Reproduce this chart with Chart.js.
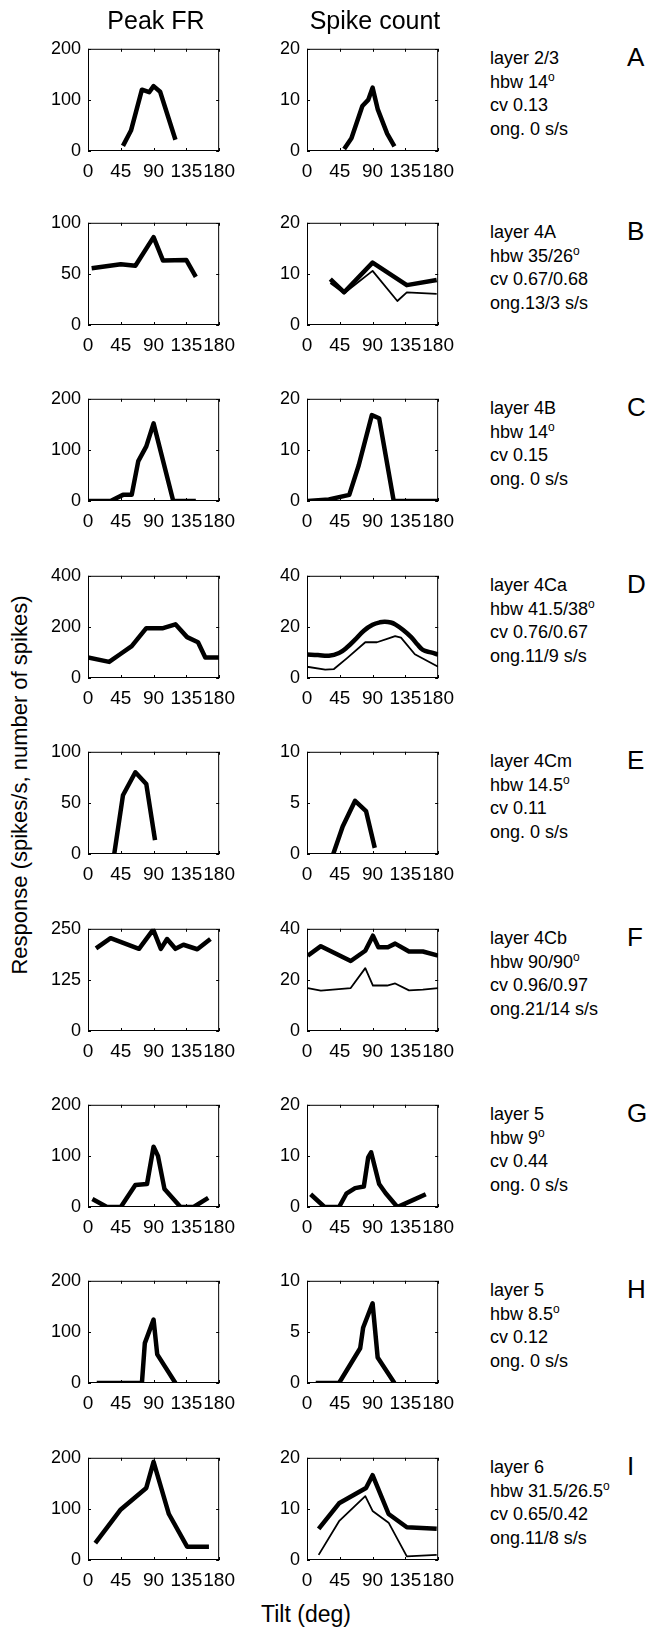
<!DOCTYPE html>
<html lang="en">
<head>
    <meta charset="UTF-8">
    <title>Tilt tuning</title>
    <style>
        body {
            margin: 0;
            background: #fff;
            font-family: "Liberation Sans", Arial, Helvetica, sans-serif;
            color: #000;
        }
        #fig {
            position: relative;
            width: 649px;
            height: 1627px;
            overflow: hidden;
        }
        .txt {
            position: absolute;
            white-space: nowrap;
        }
        .note {
            font-size: 18px;
            line-height: 23.5px;
        }
        .note sup {
            font-size: 12px;
            vertical-align: 7px;
            line-height: 0;
        }
        .letter {
            font-size: 26px;
            line-height: 26px;
        }
        .title {
            font-size: 25px;
            line-height: 26px;
            text-align: center;
        }
    </style>
</head>
<body>
<div id="fig"></div>

<script src="https://cdn.jsdelivr.net/npm/chart.js"></script>
<script>
    // ---- data (tilt in deg, response) ----
    // A, layer 2/3
    const aFrX = [48, 59, 74, 84, 90, 99, 120];
    const aFrY = [10, 40, 120, 115, 127, 116, 22];
    const aScX = [51, 61, 76, 84, 90, 97, 110, 120];
    const aScY = [0.4, 2.5, 8.8, 10, 12.4, 8.2, 3.4, 0.9];
    // B, layer 4A
    const bFrX = [5, 45, 65, 90, 103, 135, 148];
    const bFrY = [55.5, 59.5, 58, 86, 63, 63.5, 47];
    const bScX = [32, 51, 90, 137, 178];
    const bScY = [9, 6.4, 12.2, 7.8, 8.8];
    const bSc2X = [32, 51, 90, 124, 137, 178];
    const bSc2Y = [8.2, 6.2, 10.6, 4.7, 6.4, 6.1];
    // C, layer 4B
    const cFrX = [0, 31, 48, 60, 69, 80, 90, 117, 148];
    const cFrY = [0, 0, 12, 12, 78, 107, 152, 0, 0];
    const cScX = [1, 30, 58, 71, 89, 99, 119, 180];
    const cScY = [0, 0.3, 1.2, 7, 16.8, 16.2, 0, 0];
    // D, layer 4Ca
    const dFrX = [0, 29, 45, 60, 80, 103, 120, 136, 151, 161, 180];
    const dFrY = [80, 63, 95, 125, 195, 195, 210, 160, 140, 80, 80];
    const dScX = [0, 15, 30, 44, 55, 66, 78, 90, 100, 107, 115, 121, 132, 143, 152, 159, 170, 180];
    const dScY = [9.2, 9, 8.7, 9.8, 12, 15, 18.5, 20.8, 21.8, 22, 21.7, 21, 18.8, 16, 13, 11, 10, 9.2];
    const dSc2X = [0, 25, 37, 55, 80, 96, 112, 121, 129, 148, 180];
    const dSc2Y = [4.4, 3.3, 3.5, 7.8, 14, 14, 15.5, 16.4, 15.8, 9.3, 4.4];
    // E, layer 4Cm
    const eFrX = [36, 48, 65, 80, 92];
    const eFrY = [0, 57.5, 80, 68.5, 13.5];
    const eScX = [36, 49, 66, 81, 93];
    const eScY = [0, 2.7, 5.2, 4.2, 0.6];
    // F, layer 4Cb
    const fFrX = [11, 31, 70, 89.5, 100, 108.5, 120, 131, 150, 168];
    const fFrY = [202, 227, 201, 248, 201, 225, 201, 211, 200, 225];
    const fScX = [1, 19, 60, 80, 90.5, 98, 111, 121, 140, 159, 180];
    const fScY = [29.5, 33.2, 27.4, 31.4, 37.3, 32.8, 32.8, 34.2, 31.1, 31.1, 29.5];
    const fSc2X = [1, 19, 60, 80, 90.5, 110, 121, 140, 159, 180];
    const fSc2Y = [16.8, 15.8, 16.8, 24.6, 17.8, 17.8, 18.6, 15.9, 16.2, 16.8];
    // G, layer 5
    const gFrX = [6, 26, 45, 65, 81, 90, 96, 105, 127, 145, 165];
    const gFrY = [15.5, 0, 0, 43, 45, 118, 100, 35, 0, 0, 18];
    const gScX = [5, 24, 44, 54, 66, 78, 84, 88, 99, 108, 124, 146, 163];
    const gScY = [2.5, 0, 0, 2.6, 3.7, 4, 9.7, 10.7, 4.5, 2.7, 0, 1.4, 2.5];
    // H, layer 5
    const hFrX = [12, 74, 78, 90, 95, 120];
    const hFrY = [0, 0, 78, 124, 56, 0];
    const hScX = [12, 44, 73, 77, 90, 97, 120];
    const hScY = [0, 0, 3.4, 5.4, 7.8, 2.5, 0];
    // I, layer 6
    const iFrX = [10, 45, 80, 90, 111, 136, 166];
    const iFrY = [33, 99, 141, 192, 90, 26, 26];
    const iScX = [16, 44, 81, 90, 112, 137, 178];
    const iScY = [6.1, 11.1, 14.1, 16.6, 9, 6.4, 6.1];
    const iSc2X = [16, 44, 80, 90, 112, 137, 178];
    const iSc2Y = [1, 7.6, 12.5, 9.6, 7.3, 0.7, 1];

    const letters = ['A', 'B', 'C', 'D', 'E', 'F', 'G', 'H', 'I'];
    const yMaxFr = [200, 100, 200, 400, 100, 250, 200, 200, 200];
    const yMaxSc = [20, 20, 20, 40, 10, 40, 20, 10, 20];
    const tiltTicks = [0, 45, 90, 135, 180];

    const layerTxt = ['layer 2/3', 'layer 4A', 'layer 4B', 'layer 4Ca', 'layer 4Cm', 'layer 4Cb', 'layer 5', 'layer 5', 'layer 6'];
    const hbwTxt = ['14', '35/26', '14', '41.5/38', '14.5', '90/90', '9', '8.5', '31.5/26.5'];
    const cvTxt = ['0.13', '0.67/0.68', '0.15', '0.76/0.67', '0.11', '0.96/0.97', '0.44', '0.12', '0.65/0.42'];
    const ongTxt = [' 0', '13/3', ' 0', '11/9', ' 0', '21/14', ' 0', ' 0', '11/8'];

    const THICK = 4.5, THIN = 1.8;
    const frSeries = [
        [[aFrX, aFrY, THICK]], [[bFrX, bFrY, THICK]], [[cFrX, cFrY, THICK]],
        [[dFrX, dFrY, THICK]], [[eFrX, eFrY, THICK]], [[fFrX, fFrY, THICK]],
        [[gFrX, gFrY, THICK]], [[hFrX, hFrY, THICK]], [[iFrX, iFrY, THICK]]
    ];
    const scSeries = [
        [[aScX, aScY, THICK]],
        [[bScX, bScY, THICK], [bSc2X, bSc2Y, THIN]],
        [[cScX, cScY, THICK]],
        [[dScX, dScY, THICK, 0.4], [dSc2X, dSc2Y, THIN]],
        [[eScX, eScY, THICK]],
        [[fScX, fScY, THICK], [fSc2X, fSc2Y, THIN]],
        [[gScX, gScY, THICK]],
        [[hScX, hScY, THICK]],
        [[iScX, iScY, THICK], [iSc2X, iSc2Y, THIN]]
    ];

    // ---- layout ----
    const COL_LEFT = [88, 307];
    const BOX_W = 136, BOX_H = 108;
    const rowTop = i => i === 0 ? 49 : Math.round(46.5 + 176.4 * i);

    Chart.defaults.font.family = '"Liberation Sans", Arial, Helvetica, sans-serif';
    Chart.defaults.color = '#000';

    // matlab style box with ticks pointing inwards
    const boxPlugin = {
        id: 'box',
        afterDraw(chart) {
            const { ctx, chartArea: a, scales } = chart;
            const len = 3;
            ctx.save();
            ctx.strokeStyle = '#000';
            ctx.lineWidth = 1;
            ctx.strokeRect(a.left + 0.5, a.top + 0.5, a.width - 1, a.height - 1);
            ctx.beginPath();
            scales.x.ticks.forEach(t => {
                const px = Math.round(scales.x.getPixelForValue(t.value)) + 0.5;
                ctx.moveTo(px, a.bottom); ctx.lineTo(px, a.bottom - len);
                ctx.moveTo(px, a.top); ctx.lineTo(px, a.top + len);
            });
            scales.y.ticks.forEach(t => {
                const py = Math.round(scales.y.getPixelForValue(t.value)) + 0.5;
                ctx.moveTo(a.left, py); ctx.lineTo(a.left + len, py);
                ctx.moveTo(a.right, py); ctx.lineTo(a.right - len, py);
            });
            ctx.stroke();
            ctx.restore();
        }
    };

    const fig = document.getElementById('fig');

    function makePanel(left, top, yMax, series) {
        const cv = document.createElement('canvas');
        cv.width = 200;
        cv.height = 160;
        cv.style.position = 'absolute';
        fig.appendChild(cv);
        const chart = new Chart(cv, {
            type: 'line',
            data: {
                datasets: series.map(s => ({
                    data: s[0].map((v, k) => ({ x: v, y: s[1][k] })),
                    borderColor: '#000',
                    borderWidth: s[2],
                    tension: s[3] || 0,
                    pointRadius: 0,
                    borderJoinStyle: 'round',
                    fill: false
                }))
            },
            options: {
                responsive: false,
                animation: false,
                layout: { padding: { left: 4, right: 20, top: 12, bottom: 4 } },
                plugins: { legend: { display: false }, tooltip: { enabled: false } },
                scales: {
                    x: {
                        type: 'linear',
                        min: 0,
                        max: 180,
                        afterBuildTicks: s => { s.ticks = tiltTicks.map(v => ({ value: v })); },
                        ticks: { autoSkip: false, maxRotation: 0, minRotation: 0, padding: 9, font: { size: 19 } },
                        grid: { display: false, drawTicks: false },
                        border: { display: false },
                        afterFit: s => { s.height = 36; }
                    },
                    y: {
                        min: 0,
                        max: yMax,
                        ticks: { stepSize: yMax / 2, padding: 7, font: { size: 18 } },
                        grid: { display: false, drawTicks: false },
                        border: { display: false },
                        afterFit: s => { s.width = 40; }
                    }
                }
            },
            plugins: [boxPlugin]
        });
        const a = chart.chartArea;
        cv.style.left = (left - a.left) + 'px';
        cv.style.top = (top - a.top) + 'px';
    }

    function addText(cls, left, top, html) {
        const d = document.createElement('div');
        d.className = 'txt ' + cls;
        d.style.left = left + 'px';
        d.style.top = top + 'px';
        d.innerHTML = html;
        fig.appendChild(d);
        return d;
    }

    for (let i = 0; i < letters.length; i++) {
        const top = rowTop(i);
        makePanel(COL_LEFT[0], top, yMaxFr[i], frSeries[i]);
        makePanel(COL_LEFT[1], top, yMaxSc[i], scSeries[i]);
        addText('note', 490, top - 2,
            layerTxt[i] + '<br>hbw ' + hbwTxt[i] + '<sup>o</sup><br>cv ' + cvTxt[i] +
            '<br>ong.' + ongTxt[i] + ' s/s');
        addText('letter', 627, top - 5, letters[i]);
    }

    // column titles and axis labels
    const t1 = addText('title', COL_LEFT[0], 7, 'Peak FR');
    t1.style.width = BOX_W + 'px';
    const t2 = addText('title', COL_LEFT[1], 7, 'Spike count');
    t2.style.width = BOX_W + 'px';

    const ylab = addText('title', 0, 0, 'Response (spikes/s, number of spikes)');
    ylab.style.fontSize = '22px';
    ylab.style.left = '20px';
    ylab.style.top = '785px';
    ylab.style.transform = 'translate(-50%, -50%) rotate(-90deg)';

    const xlab = addText('title', 0, 0, 'Tilt (deg)');
    xlab.style.fontSize = '23px';
    xlab.style.left = '306px';
    xlab.style.top = '1614px';
    xlab.style.transform = 'translate(-50%, -50%)';
</script>
</body>
</html>
